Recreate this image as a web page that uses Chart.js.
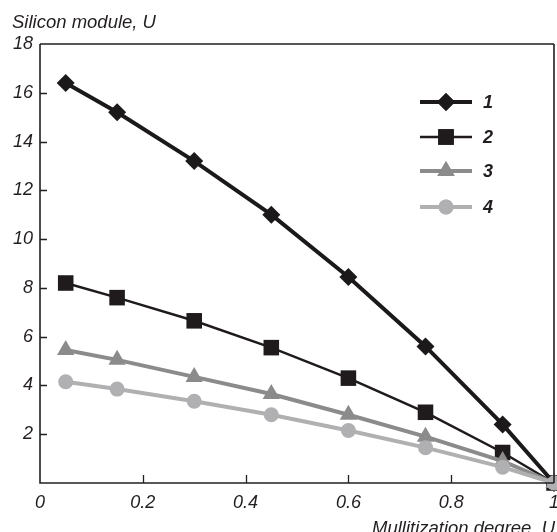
<!DOCTYPE html>
<html>
<head>
<meta charset="utf-8">
<script src="https://cdn.jsdelivr.net/npm/chart.js"></script>
<style>
  html, body { margin: 0; padding: 0; background: #fff; }
  #wrap { width: 557px; height: 532px; }
</style>
</head>
<body>
<div id="wrap"><canvas id="chart" width="557" height="532"></canvas></div>
<script>
// mullitization degree (x) and silicon module per curve
const mullitization = [0.05, 0.15, 0.3, 0.45, 0.6, 0.75, 0.9, 1];
const curve1 = [16.4, 15.2, 13.2, 11.0, 8.45, 5.6, 2.4, 0];
const curve2 = [8.2, 7.6, 6.65, 5.55, 4.3, 2.9, 1.25, 0];
const curve3 = [5.45, 5.05, 4.35, 3.65, 2.8, 1.9, 0.9, 0];
const curve4 = [4.15, 3.85, 3.35, 2.8, 2.15, 1.45, 0.65, 0];
const curveLabels = ['1', '2', '3', '4'];
const xTickValues = [0, 0.2, 0.4, 0.6, 0.8, 1];
const yTickValues = [2, 4, 6, 8, 10, 12, 14, 16, 18];

const FONT = '"Liberation Sans", Arial, Helvetica, sans-serif';

function toPoints(ys) {
  return ys.map((y, i) => ({ x: mullitization[i], y: y }));
}

const styles = [
  { color: '#1b1919', width: 4, point: 'rectRot', r: 9 },
  { color: '#1f1b1c', width: 2.5, point: 'rect', r: 11 },
  { color: '#8b8b8b', width: 4, point: 'triangle', r: 10 },
  { color: '#b0b0b2', width: 4, point: 'circle', r: 7.5 }
];

const series = [curve1, curve2, curve3, curve4];

const datasets = series.map((ys, i) => ({
  label: curveLabels[i],
  data: toPoints(ys),
  borderColor: styles[i].color,
  backgroundColor: styles[i].color,
  borderWidth: styles[i].width,
  pointStyle: styles[i].point,
  pointRadius: styles[i].r,
  pointHoverRadius: styles[i].r,
  pointBorderWidth: 0,
  tension: 0,
  clip: false,
  order: 4 - i
}));

// axis box, inner ticks, axis titles and the in-plot legend
const decorations = {
  id: 'decorations',
  afterDraw(chart) {
    const ctx = chart.ctx;
    const a = chart.chartArea;
    const xs = chart.scales.x, ys = chart.scales.y;
    ctx.save();
    ctx.strokeStyle = '#231f20';
    ctx.lineWidth = 1.6;
    ctx.beginPath();
    ctx.moveTo(a.left, a.top);
    ctx.lineTo(a.right, a.top);
    ctx.moveTo(a.right, a.top);
    ctx.lineTo(a.right, a.bottom);
    ctx.moveTo(a.left, a.top);
    ctx.lineTo(a.left, a.bottom);
    ctx.lineTo(a.right, a.bottom);
    ctx.stroke();

    ctx.lineWidth = 1.3;
    ctx.beginPath();
    yTickValues.forEach(v => {
      if (v >= 18) return;
      const py = Math.round(ys.getPixelForValue(v)) + 0.5;
      ctx.moveTo(a.left, py);
      ctx.lineTo(a.left + 7, py);
    });
    xTickValues.forEach(v => {
      if (v <= 0 || v >= 1) return;
      const px = Math.round(xs.getPixelForValue(v)) + 0.5;
      ctx.moveTo(px, a.bottom);
      ctx.lineTo(px, a.bottom - 8);
    });
    ctx.stroke();

    // axis titles
    ctx.fillStyle = '#231f20';
    ctx.font = 'italic 18.5px ' + FONT;
    ctx.textAlign = 'left';
    ctx.textBaseline = 'alphabetic';
    ctx.fillText('Silicon module, U', 12, 28);
    ctx.fillText('Mullitization degree, U', 372, 534);

    // legend
    const legendY = [102, 137, 171, 207];
    chart.data.datasets.forEach((ds, i) => {
      const st = styles[i];
      const y = legendY[i];
      ctx.strokeStyle = st.color;
      ctx.lineWidth = st.width;
      ctx.beginPath();
      ctx.moveTo(420, y);
      ctx.lineTo(472, y);
      ctx.stroke();
      ctx.fillStyle = st.color;
      Chart.helpers.drawPoint(ctx, { pointStyle: st.point, radius: st.r, rotation: 0, borderWidth: 0 }, 446, y);
      ctx.fill();
      ctx.fillStyle = '#231f20';
      ctx.font = 'italic bold 18px ' + FONT;
      ctx.textBaseline = 'middle';
      ctx.fillText(ds.label, 483, y + 1);
    });
    ctx.restore();
  }
};

new Chart(document.getElementById('chart'), {
  type: 'line',
  data: { datasets: datasets },
  options: {
    responsive: false,
    animation: false,
    layout: { autoPadding: false, padding: { top: 44, right: 3, left: 0, bottom: 0 } },
    plugins: {
      legend: { display: false },
      tooltip: { enabled: false }
    },
    scales: {
      x: {
        type: 'linear',
        min: 0,
        max: 1,
        afterBuildTicks(scale) {
          scale.ticks = xTickValues.map(v => ({ value: v }));
        },
        afterFit(scale) {
          scale.height = 49;
          scale.paddingLeft = 0;
          scale.paddingRight = 0;
        },
        border: { display: false },
        grid: { display: false, drawTicks: false },
        ticks: {
          padding: 9,
          maxRotation: 0,
          color: '#231f20',
          font: { family: FONT, size: 18, style: 'italic' },
          callback: v => String(Math.round(v * 10) / 10)
        }
      },
      y: {
        min: 0,
        max: 18,
        afterBuildTicks(scale) {
          scale.ticks = yTickValues.map(v => ({ value: v }));
        },
        afterFit(scale) {
          scale.width = 40;
        },
        border: { display: false },
        grid: { display: false, drawTicks: false },
        ticks: {
          padding: 7,
          color: '#231f20',
          font: { family: FONT, size: 18, style: 'italic' }
        }
      }
    }
  },
  plugins: [decorations]
});
</script>
</body>
</html>
